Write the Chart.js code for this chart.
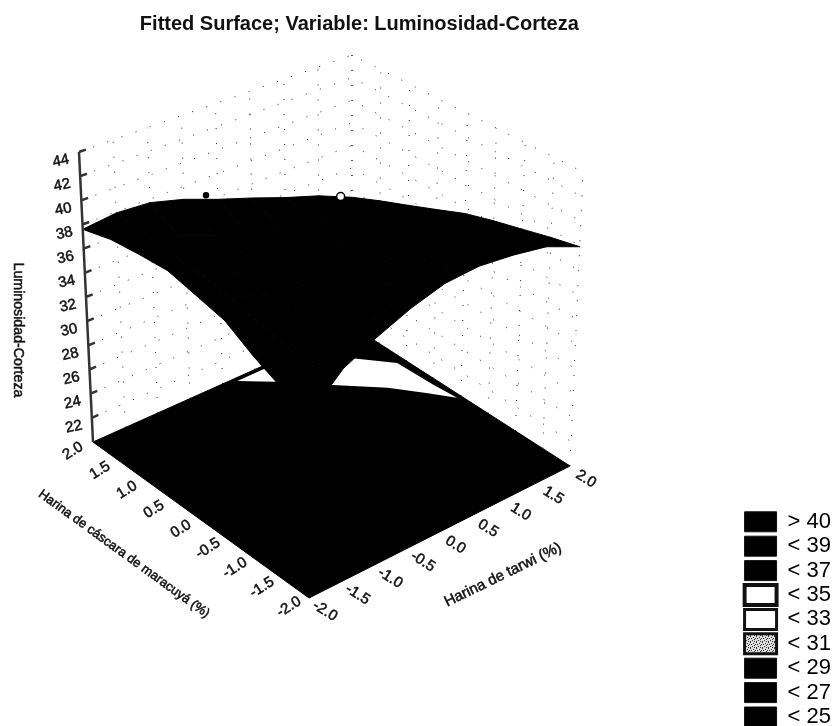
<!DOCTYPE html>
<html>
<head>
<meta charset="utf-8">
<title>Fitted Surface</title>
<script src="https://cdn.jsdelivr.net/npm/chart.js@4"></script>
<style>
    html, body { margin: 0; padding: 0; background: #fff; }
    canvas { display: block; }
</style>
</head>
<body>
<canvas id="surfaceChart" width="837" height="726"></canvas>
<script>
const xTicks = [-2, -1.5, -1, -0.5, 0, 0.5, 1, 1.5, 2];
const yTicks = [-2, -1.5, -1, -0.5, 0, 0.5, 1, 1.5, 2];
const zTicks = [22, 24, 26, 28, 30, 32, 34, 36, 38, 40, 42, 44];

// fitted surface, one row per yTicks value, one column per xTicks value
const zRow0 = [34.1, 36.5, 37.8, 38.9, 39.7, 39.9, 39.6, 39.1, 37.9];
const zRow1 = [34.8, 35.2, 36.3, 37.3, 38.1, 38.6, 38.8, 38.5, 37.4];
const zRow2 = [35.9, 35.4, 35.6, 36.3, 37.0, 37.6, 37.9, 37.7, 36.8];
const zRow3 = [37.3, 36.0, 35.6, 35.8, 36.2, 36.7, 37.0, 36.9, 36.2];
const zRow4 = [37.9, 36.6, 35.8, 35.5, 35.5, 35.8, 36.1, 36.1, 35.5];
const zRow5 = [38.5, 37.1, 36.1, 35.4, 35.0, 35.0, 35.2, 35.2, 34.5];
const zRow6 = [38.4, 37.3, 36.2, 35.3, 34.6, 34.2, 34.1, 34.0, 33.5];
const zRow7 = [38.2, 37.6, 36.4, 35.3, 34.4, 33.6, 33.1, 32.9, 32.5];
const zRow8 = [37.6, 37.9, 37.7, 36.9, 35.8, 34.8, 33.7, 32.7, 31.4];
const zRows = [zRow0, zRow1, zRow2, zRow3, zRow4, zRow5, zRow6, zRow7, zRow8];

// white contour band on the floor
const bandX = [0.18, 0.52, 1.00, 1.46, 1.73, 1.94, 1.91, 1.89, 1.55, 0.58];
const bandY = [1.94, 1.65, 1.17, 0.70, 0.32, 0.00, 0.40, 1.04, 1.46, 1.94];

// observed points that poke out of the surface
const obsX = [1.56, -0.24];
const obsY = [1.68, 1.92];
const obsZ = [33.4, 36.9];

const legendLabels = ['> 40', '< 39', '< 37', '< 35', '< 33', '< 31', '< 29', '< 27', '< 25'];

const Z_MIN = 20;
const Z_MAX = 44;

const FLOOR = { f: [309, 598], r: [570, 466], l: [93, 442], b: [352, 326] };
const ROOF = { f: [310, 286], r: [583, 172], l: [79, 152], b: [352, 55] };

function corners(c, u, v, i) {
    return c.f[i] * (1 - u) * (1 - v) + c.r[i] * u * (1 - v) +
        c.l[i] * (1 - u) * v + c.b[i] * u * v;
}

// 3D data value -> plot position
function project(x, y, z) {
    const u = (x + 2) / 4;
    const v = (y + 2) / 4;
    const w = (z - Z_MIN) / (Z_MAX - Z_MIN);
    return {
        x: corners(FLOOR, u, v, 0) + w * (corners(ROOF, u, v, 0) - corners(FLOOR, u, v, 0)),
        y: corners(FLOOR, u, v, 1) + w * (corners(ROOF, u, v, 1) - corners(FLOOR, u, v, 1))
    };
}

const GAP = { x: NaN, y: NaN };
const datasets = [];

// dotted grid on the two back walls
const grid = [];
zTicks.forEach(z => {
    grid.push(project(-2, 2, z), project(2, 2, z), project(2, -2, z), GAP);
});
xTicks.forEach(x => {
    grid.push(project(x, 2, Z_MIN), project(x, 2, Z_MAX), GAP);
});
yTicks.forEach(y => {
    grid.push(project(2, y, Z_MIN), project(2, y, Z_MAX), GAP);
});
datasets.push({
    data: grid,
    borderColor: '#222',
    borderWidth: 1,
    borderDash: [1, 14],
    order: 50
});

// floor
datasets.push({
    data: [project(-2, -2, Z_MIN), project(2, -2, Z_MIN), project(2, 2, Z_MIN), project(-2, 2, Z_MIN), project(-2, -2, Z_MIN)],
    borderColor: '#000',
    borderWidth: 1,
    backgroundColor: '#000',
    fill: 'shape',
    order: 40
});

// contour band on the floor
const band = bandX.map((x, i) => project(x, bandY[i], Z_MIN));
band.push(band[0]);
datasets.push({
    data: band,
    borderColor: '#fff',
    borderWidth: 0,
    backgroundColor: '#fff',
    fill: 'shape',
    order: 30
});

// surface cells
for (let r = 0; r < yTicks.length - 1; r++) {
    for (let c = 0; c < xTicks.length - 1; c++) {
        const a = project(xTicks[c], yTicks[r], zRows[r][c]);
        datasets.push({
            data: [
                a,
                project(xTicks[c + 1], yTicks[r], zRows[r][c + 1]),
                project(xTicks[c + 1], yTicks[r + 1], zRows[r + 1][c + 1]),
                project(xTicks[c], yTicks[r + 1], zRows[r + 1][c]),
                a
            ],
            borderColor: '#000',
            borderWidth: 1,
            backgroundColor: '#000',
            fill: 'shape',
            order: 20
        });
    }
}

// z axis with its tick marks
const axisZ = [project(-2, 2, Z_MIN), project(-2, 2, Z_MAX), GAP];
zTicks.forEach(z => {
    axisZ.push(project(-2, 2, z), project(-1.9, 2, z), GAP);
});
datasets.push({
    data: axisZ,
    borderColor: '#333',
    borderWidth: 2.5,
    order: 15
});

datasets.push({
    data: obsX.map((x, i) => project(x, obsY[i], obsZ[i])),
    showLine: false,
    pointRadius: [4, 2.5],
    pointBorderWidth: 1.5,
    pointBorderColor: '#000',
    pointBackgroundColor: ['#fff', '#000'],
    order: 10
});

function speckle() {
    const c = document.createElement('canvas');
    c.width = 6;
    c.height = 6;
    const g = c.getContext('2d');
    g.fillStyle = '#ddd';
    g.fillRect(0, 0, 6, 6);
    g.fillStyle = '#333';
    [[0, 0], [3, 1], [1, 2], [5, 2], [2, 4], [4, 3], [0, 5], [4, 5]].forEach(p => g.fillRect(p[0], p[1], 1, 1));
    return g.createPattern(c, 'repeat');
}

const legendFill = ['#000', '#000', '#000', '#fff', '#fff', speckle(), '#000', '#000', '#000'];
const legendWidth = [1, 1, 1, 4, 3, 3, 1, 1, 1];

function rotatedText(ctx, text, px, py, angle) {
    ctx.save();
    ctx.translate(px, py);
    ctx.rotate(angle * Math.PI / 180);
    ctx.strokeText(text, 0, 0);
    ctx.fillText(text, 0, 0);
    ctx.restore();
}

const axisText = {
    id: 'axisText',
    afterLayout(chart) {
        chart.titleBlock.right -= 29;
    },
    afterDraw(chart) {
        const ctx = chart.ctx;
        const sx = chart.scales.x;
        const sy = chart.scales.y;
        ctx.save();
        ctx.fillStyle = '#111';
        ctx.strokeStyle = '#111';
        ctx.lineWidth = 0.5;
        ctx.textAlign = 'center';
        ctx.textBaseline = 'middle';
        ctx.font = '15px "Liberation Sans"';

        xTicks.forEach(t => {
            const p = project(t, -2, Z_MIN);
            rotatedText(ctx, t.toFixed(1), sx.getPixelForValue(p.x) + 16, sy.getPixelForValue(p.y) + 13, 32);
        });
        yTicks.forEach(t => {
            const p = project(-2, t, Z_MIN);
            rotatedText(ctx, t.toFixed(1), sx.getPixelForValue(p.x) - 20, sy.getPixelForValue(p.y) + 9, -32);
        });
        zTicks.forEach(t => {
            const p = project(-2, 2, t);
            rotatedText(ctx, String(t), sx.getPixelForValue(p.x) - 18, sy.getPixelForValue(p.y) + 9, -12);
        });

        ctx.font = '15px "Liberation Sans"';
        rotatedText(ctx, 'Harina de tarwi (%)', 503, 575, -26);
        ctx.font = '13px "Liberation Sans"';
        rotatedText(ctx, 'Harina de cáscara de maracuyá (%)', 124, 554, 36);
        ctx.font = '14.2px "Liberation Sans"';
        rotatedText(ctx, 'Luminosidad-Corteza', 18, 330, 90);
        ctx.restore();
    }
};

const chart = new Chart(document.getElementById('surfaceChart'), {
    type: 'scatter',
    data: { datasets: datasets.map(d => Object.assign({ showLine: true, pointRadius: 0, clip: false }, d)) },
    plugins: [axisText],
    options: {
        responsive: false,
        animation: false,
        layout: { padding: { right: -4, bottom: -4.4 } },
        scales: {
            x: { type: 'linear', display: false, min: 0, max: 837 },
            y: { type: 'linear', display: false, reverse: true, min: 0, max: 726 }
        },
        plugins: {
            tooltip: { enabled: false },
            title: {
                display: true,
                fullSize: false,
                text: 'Fitted Surface; Variable: Luminosidad-Corteza',
                color: '#111',
                font: { family: '"Liberation Sans"', size: 20, weight: 'bold' },
                padding: { top: 12, bottom: 2 }
            },
            legend: {
                position: 'right',
                align: 'end',
                labels: {
                    boxWidth: 32,
                    boxHeight: 20,
                    padding: 2.4,
                    color: '#111',
                    font: { family: '"Liberation Sans"', size: 22 },
                    generateLabels: () => legendLabels.map((text, i) => ({
                        text: text,
                        fillStyle: legendFill[i],
                        strokeStyle: '#111',
                        lineWidth: legendWidth[i],
                        hidden: false,
                        index: i
                    }))
                }
            }
        }
    }
});

// make the hidden scales run 1:1 with the plot area
chart.options.scales.x.min = chart.chartArea.left;
chart.options.scales.x.max = chart.chartArea.right;
chart.options.scales.y.min = chart.chartArea.top;
chart.options.scales.y.max = chart.chartArea.bottom;
chart.update();
</script>
</body>
</html>
